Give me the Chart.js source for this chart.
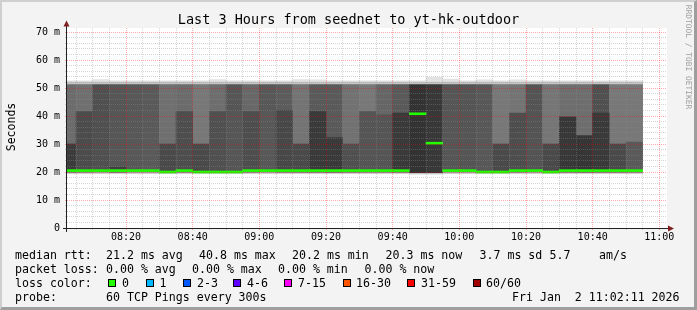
<!DOCTYPE html>
<html lang="en">
<head>
<meta charset="UTF-8">
<title>Last 3 Hours from seednet to yt-hk-outdoor</title>
<script src="https://cdn.jsdelivr.net/npm/chart.js"></script>
<style>
    body { margin: 0; background: #fff; }
    #graph {
        position: relative;
        width: 697px;
        height: 310px;
        background: #f3f3f3;
        overflow: hidden;
        font-family: 'DejaVu Sans Mono', monospace;
        color: #000;
    }
    #graph canvas { position: absolute; left: 0; top: 0; }
    #frame {
        position: absolute; left: 0; top: 0; width: 697px; height: 310px;
        box-sizing: border-box;
        border-top: 2px solid #cfcfcf; border-left: 2px solid #cfcfcf;
        border-right: 3px solid #9e9e9e; border-bottom: 3px solid #9e9e9e;
        pointer-events: none;
    }
    #title {
        position: absolute; left: 0; top: 11px; width: 697px;
        text-align: center; font-size: 13.5px; line-height: 16px; white-space: pre;
    }
    #ylabel {
        position: absolute; left: -19px; top: 120px; width: 60px; height: 14px;
        line-height: 14px; font-size: 11.5px; text-align: center;
        transform: rotate(-90deg);
    }
    #credit {
        position: absolute; left: 628px; top: 52px; width: 120px; height: 10px;
        line-height: 10px; font-size: 7.9px; text-align: center; color: #a0a0a0;
        transform: rotate(90deg); white-space: pre;
    }
    .lg { position: absolute; font-size: 11.6px; line-height: 14px; white-space: pre; }
    .box { position: absolute; width: 8px; height: 8px; box-sizing: border-box; border: 1px solid #000; top: 279px; }
</style>
</head>
<body>
<div id="graph">
    <canvas id="chart" width="697" height="310"></canvas>
    <div id="title">Last 3 Hours from seednet to yt-hk-outdoor</div>
    <div id="ylabel">Seconds</div>
    <div id="credit">RRDTOOL / TOBI OETIKER</div>

    <div class="lg" style="left:15px;top:248px">median rtt:</div>
    <div class="lg" style="left:106px;top:248px">21.2 ms avg</div>
    <div class="lg" style="left:199px;top:248px">40.8 ms max</div>
    <div class="lg" style="left:292px;top:248px">20.2 ms min</div>
    <div class="lg" style="left:385.5px;top:248px">20.3 ms now</div>
    <div class="lg" style="left:479.5px;top:248px">3.7 ms sd</div>
    <div class="lg" style="left:549.5px;top:248px">5.7</div>
    <div class="lg" style="left:599px;top:248px">am/s</div>

    <div class="lg" style="left:15px;top:262px">packet loss:</div>
    <div class="lg" style="left:106px;top:262px">0.00 % avg</div>
    <div class="lg" style="left:192px;top:262px">0.00 % max</div>
    <div class="lg" style="left:278px;top:262px">0.00 % min</div>
    <div class="lg" style="left:364.5px;top:262px">0.00 % now</div>

    <div class="lg" style="left:15px;top:276px">loss color:</div>
    <div id="lossLegend"></div>

    <div class="lg" style="left:15px;top:290px">probe:</div>
    <div class="lg" style="left:106px;top:290px">60 TCP Pings every 300s</div>
    <div class="lg" style="left:512px;top:290px">Fri Jan  2 11:02:11 2026</div>

    <div id="frame"></div>
</div>

<script>
    // 5 minute slots (start time), one smoke column each
    const slots = ['08:00','08:05','08:10','08:15','08:20','08:25','08:30','08:35','08:40','08:45',
                   '08:50','08:55','09:00','09:05','09:10','09:15','09:20','09:25','09:30','09:35',
                   '09:40','09:45','09:50','09:55','10:00','10:05','10:10','10:15','10:20','10:25',
                   '10:30','10:35','10:40','10:45','10:50'];

    // rtt values in ms
    const median   = [20.5,20.5,20.5,20.5,20.5,20.5,20.0,20.5,20.0,20.0,
                      20.0,20.5,20.5,20.5,20.5,20.5,20.5,20.5,20.5,20.5,
                      20.5,40.8,30.3,20.5,20.5,20.0,20.0,20.5,20.5,20.0,
                      20.5,20.5,20.5,20.5,20.5];
    const rttMin   = [19.5,19.5,19.5,19.5,19.5,19.5,19.5,19.5,19.5,19.5,
                      19.5,19.5,19.5,19.5,19.5,19.5,19.5,19.5,19.5,19.5,
                      19.5,19.3,19.3,19.5,19.5,19.5,19.5,19.5,19.5,19.5,
                      19.5,19.5,19.5,19.5,19.5];
    const rttLow   = [20.0,20.0,20.0,20.0,20.0,20.0,20.0,20.0,20.0,20.0,
                      20.0,20.0,20.0,20.0,20.0,20.0,20.0,20.0,20.0,20.0,
                      20.0,19.8,19.8,20.0,20.0,20.0,20.0,20.0,20.0,20.0,
                      20.0,20.0,20.0,20.0,20.0];
    // top of the dense part of the smoke (null = even spread)
    const rttDense = [30.0,41.6,null,21.7,null,null,30.0,41.6,30.0,41.6,
                      null,41.6,null,42.0,30.0,41.6,32.3,30.0,41.6,40.4,
                      41.0,null,null,null,null,null,30.0,41.0,null,30.0,
                      39.7,33.0,41.0,30.0,30.7];
    const rttHigh  = [51.2,51.2,51.2,51.2,51.2,51.2,51.2,51.2,51.2,51.2,
                      51.2,51.2,51.2,51.2,51.2,51.2,51.2,51.2,51.2,51.2,
                      51.2,51.2,51.2,51.2,51.2,51.2,51.2,51.2,51.2,51.2,
                      51.2,51.2,51.2,51.2,51.2];
    const rttHigh2 = [52.1,52.1,52.1,52.1,52.1,52.1,52.1,52.1,52.1,52.1,
                      52.1,52.1,52.1,52.1,52.1,52.1,52.1,52.1,52.1,52.1,
                      52.1,52.1,52.1,52.1,52.1,52.1,52.1,52.1,52.1,52.1,
                      52.1,52.1,52.1,52.1,52.1];
    const rttMax   = [52.6,52.6,53.0,52.6,52.6,52.6,52.6,52.6,52.6,53.0,
                      52.6,52.6,52.6,52.6,53.0,52.9,52.6,52.6,52.6,52.6,
                      52.6,52.6,53.8,53.2,52.6,52.9,52.6,52.9,52.6,52.6,
                      52.6,52.6,52.6,52.6,52.6];
    // smoke density as grey level (lower = more pings)
    const shadeUpper = [108,112,80,86,88,90,112,108,120,110,
                        86,104,88,92,116,90,90,114,120,102,
                        90,51,56,86,85,88,120,116,84,118,
                        110,110,80,120,120];
    const shadeLower = [60,76,80,64,88,90,74,78,74,80,
                        86,78,88,72,74,58,58,80,85,85,
                        58,51,56,86,85,88,74,78,84,74,
                        56,54,58,74,90];

    const xTickLabels = ['08:20','08:40','09:00','09:20','09:40','10:00','10:20','10:40','11:00'];
    const yTickValues = [0, 10, 20, 30, 40, 50, 60, 70];
    const yTickLabels = ['0','10 m','20 m','30 m','40 m','50 m','60 m','70 m'];

    const lossLabels = ['0','1','2-3','4-6','7-15','16-30','31-59','60/60'];
    const lossColors = ['#26ff00','#00b8ff','#0059ff','#5e00ff','#ff00ff','#ff5500','#ff0000','#a10000'];

    // loss colour legend
    const boxLeft = [108, 146, 183, 233, 284, 343, 407, 473];
    const textLeft = [122, 159.5, 197, 247, 298, 356, 421, 486];
    const lossDiv = document.getElementById('lossLegend');
    lossLabels.forEach((l, i) => {
        const b = document.createElement('div');
        b.className = 'box';
        b.style.left = boxLeft[i] + 'px';
        b.style.background = lossColors[i];
        lossDiv.appendChild(b);
        const t = document.createElement('div');
        t.className = 'lg';
        t.style.left = textLeft[i] + 'px';
        t.style.top = '276px';
        t.textContent = l;
        lossDiv.appendChild(t);
    });

    const toMin = s => { const p = s.split(':'); return (+p[0] - 8) * 60 + (+p[1]); };
    const grey = g => `rgb(${g},${g},${g})`;

    function band(lo, hi, color) {
        return {
            data: slots.map((s, i) => ({
                x: toMin(s) + 2.5,
                y: (lo[i] == null || hi[i] == null) ? null : [lo[i], hi[i]]
            })),
            backgroundColor: color,
            borderWidth: 0,
            grouped: false,
            barPercentage: 1,
            categoryPercentage: 1,
            clip: 0
        };
    }

    const medLo = median.map(m => m - 0.35);
    const medHi = median.map(m => m + 0.35);
    const denseLo = rttDense.map((d, i) => d == null ? null : rttLow[i]);

    const xGrid = [];
    for (let m = 5; m <= 180; m += 5) xGrid.push(m);
    const yGrid = [];
    for (let v = 0; v <= 70; v += 2) yGrid.push(v);
    const xMajor = xTickLabels.map(toMin);

    const minorCol = 'rgba(140,140,140,0.37)';
    const majorCol = 'rgba(255,0,0,0.33)';

    const plotFrame = {
        id: 'plotFrame',
        beforeDraw(chart) {
            const { ctx, chartArea: a } = chart;
            ctx.save();
            ctx.fillStyle = '#fff';
            ctx.fillRect(a.left, a.top, a.right - a.left, a.bottom - a.top);
            ctx.restore();
        },
        afterDraw(chart) {
            const { ctx, chartArea: a } = chart;
            const x0 = a.left - 0.5, y0 = a.bottom + 0.5;
            ctx.save();
            ctx.strokeStyle = '#202020';
            ctx.lineWidth = 1;
            ctx.beginPath();
            ctx.moveTo(a.left - 4, y0); ctx.lineTo(a.right + 2, y0);
            ctx.moveTo(x0, a.bottom + 4); ctx.lineTo(x0, a.top - 2);
            ctx.stroke();
            ctx.fillStyle = '#7f1f1f';
            ctx.beginPath();
            ctx.moveTo(x0 - 3, a.top - 1.5); ctx.lineTo(x0 + 3, a.top - 1.5); ctx.lineTo(x0, a.top - 7.5);
            ctx.closePath(); ctx.fill();
            ctx.beginPath();
            ctx.moveTo(a.right + 1, y0 - 3); ctx.lineTo(a.right + 1, y0 + 3); ctx.lineTo(a.right + 7, y0);
            ctx.closePath(); ctx.fill();
            ctx.restore();
        }
    };

    Chart.defaults.font.family = "'DejaVu Sans Mono', monospace";
    Chart.defaults.font.size = 10;
    Chart.defaults.color = '#000';

    new Chart(document.getElementById('chart'), {
        type: 'bar',
        data: {
            datasets: [
                band(medLo, medHi, '#22ff00'),
                band(denseLo, rttDense, shadeLower.map(grey)),
                band(rttLow, rttHigh, shadeUpper.map(grey)),
                band(rttMin, rttHigh2, '#c4c4c4'),
                band(rttMin, rttMax, '#e2e2e2')
            ]
        },
        options: {
            responsive: false,
            devicePixelRatio: 1,
            animation: false,
            layout: { padding: { left: 0, right: 30, top: 28, bottom: 62 } },
            plugins: { legend: { display: false }, tooltip: { enabled: false } },
            scales: {
                x: {
                    type: 'linear',
                    min: 2.3,
                    max: 182.3,
                    offset: false,
                    afterBuildTicks: s => { s.ticks = xGrid.map(v => ({ value: v })); },
                    afterFit: s => { s.height = 20; },
                    ticks: {
                        autoSkip: false,
                        maxRotation: 0,
                        padding: 1,
                        callback: v => {
                            const i = xMajor.indexOf(v);
                            return i < 0 ? '' : xTickLabels[i];
                        }
                    },
                    grid: {
                        z: 1,
                        offset: false,
                        lineWidth: 1,
                        tickLength: 2,
                        color: c => (c.tick && xMajor.includes(c.tick.value)) ? majorCol : minorCol
                    },
                    border: { display: false, dash: [1, 1] }
                },
                y: {
                    type: 'linear',
                    min: 0,
                    max: 71.43,
                    afterBuildTicks: s => { s.ticks = yGrid.map(v => ({ value: v })); },
                    afterFit: s => { s.width = 67; },
                    ticks: {
                        autoSkip: false,
                        padding: 5,
                        callback: v => {
                            const i = yTickValues.indexOf(v);
                            return i < 0 ? '' : yTickLabels[i];
                        }
                    },
                    grid: {
                        z: 1,
                        lineWidth: 1,
                        tickLength: 2,
                        color: c => (c.tick && yTickValues.includes(c.tick.value)) ? majorCol : minorCol
                    },
                    border: { display: false, dash: [1, 1] }
                }
            }
        },
        plugins: [plotFrame]
    });
</script>
</body>
</html>
